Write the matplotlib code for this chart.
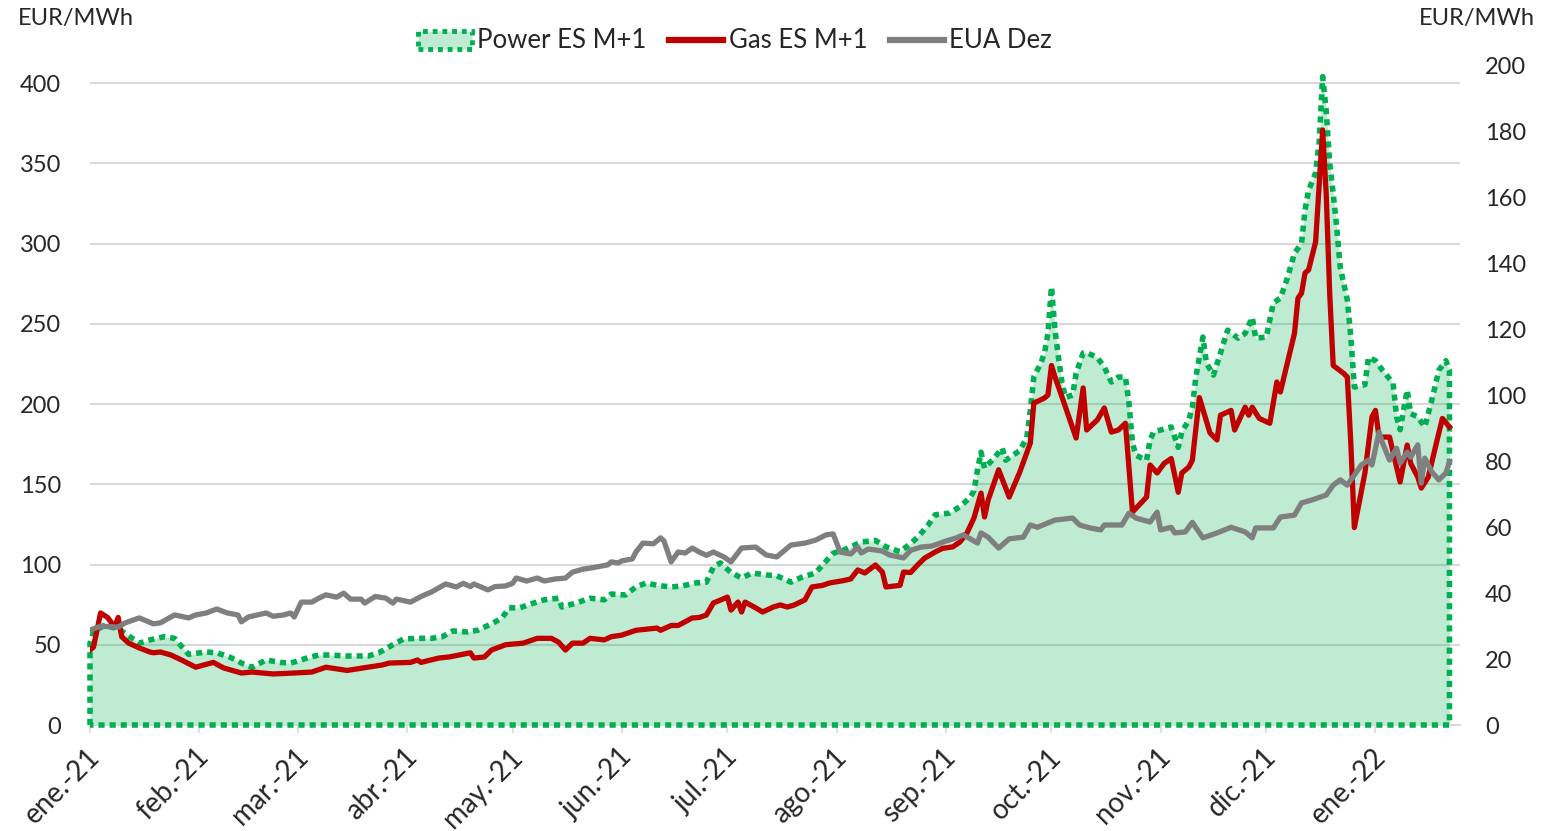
import numpy as np
import matplotlib
matplotlib.use('Agg')
import matplotlib.pyplot as plt
import matplotlib.transforms as mtransforms
from matplotlib.patches import Patch
from matplotlib.lines import Line2D

plt.rcParams['font.family'] = ['Lato', 'DejaVu Sans']

# ---------------- data (days since 2021-01-01, EUR/MWh) ----------------
START = np.datetime64('2021-01-01')

power_days = [0, 1, 4, 8, 10, 14, 17, 21, 24, 26, 28, 33, 36, 40, 43, 46, 50, 54, 57, 62,
              65, 68, 73, 79, 82, 86, 89, 93, 97, 100, 103, 107, 110, 114, 117, 119, 122, 126,
              129, 133, 134, 138, 142, 146, 148, 152, 155, 158, 161, 165, 168, 172, 175, 177,
              179, 182, 185, 188, 192, 195, 199, 202, 206, 208, 211, 214, 217, 219, 223, 226,
              230, 233, 235, 238, 240, 244, 247, 250, 251, 252, 253, 254, 257, 259, 260, 264,
              266, 267, 268, 270, 271, 272, 273, 274, 275, 276, 277, 279, 280, 282, 283, 286,
              288, 290, 292, 294, 295, 296, 297, 300, 301, 302, 304, 307, 309, 310, 312, 313,
              314, 316, 317, 319, 321, 323, 326, 328, 330, 331, 334, 336, 338, 340, 342, 344,
              345, 346, 348, 349, 350, 351, 352, 353, 354, 355, 357, 358, 359, 362, 363, 365,
              367, 370, 371, 372, 374, 375, 377, 379, 381, 383, 385, 386]
power_vals = [51, 58, 62, 60, 57, 51, 53, 55, 54, 49, 44, 45.5, 45, 42, 38.6, 36, 40.5, 39, 38.6, 42,
              43.6, 43.6, 43, 43, 45, 50, 53.6, 54, 54, 55, 58.6, 58, 59, 63, 66.7, 73, 73, 76,
              78, 79, 73.5, 76, 79, 78, 81.6, 81, 86, 88.5, 87, 86, 86.6, 88.5, 89, 98.4,
              101, 95, 91.6, 94.7, 93.5, 93, 89, 92, 94.7, 99.7, 107, 109, 112, 114, 115, 111,
              108, 113, 117, 124.6, 131, 132, 136, 142, 146, 159, 170, 160, 167, 172.6, 165, 171,
              179, 196, 217, 225.5, 231.8, 244, 273, 246, 229, 213, 204, 205.6, 219, 231.8, 232, 229,
              223, 213.7, 216.8, 216.8, 200.6, 175.7, 168, 165, 177.6, 182.5, 183.8, 185.7, 173, 182.5, 190, 198,
              216.8, 241.7, 225.5, 218, 231.8, 246, 241, 244, 254, 241, 241.7, 263, 266, 278.5, 294, 300,
              321, 333, 344, 362.6, 404, 383, 350, 331, 310, 285, 265, 241.7, 210.6, 212, 229, 227,
              221, 213, 192, 184, 208.7, 194, 192, 185.7, 202.5, 221, 227, 221]

gas_days = [0, 1, 3, 5, 7, 8, 9, 11, 14, 17, 18, 20, 23, 26, 30, 35, 38, 43, 46, 52,
            58, 63, 67, 73, 79, 83, 85, 91, 93, 94, 99, 102, 108, 109, 112, 114, 118, 123,
            127, 131, 133, 135, 137, 140, 142, 146, 148, 151, 155, 161, 162, 165, 167, 171,
            173, 175, 177, 181, 182, 184, 185, 186, 189, 191, 194, 196, 198, 200, 203, 205,
            208, 210, 214, 216, 218, 220, 223, 225, 226, 230, 231, 233, 235, 237, 240, 242,
            245, 247, 249, 251, 253, 254, 255, 256, 258, 261, 264, 267, 268, 271, 272, 273,
            274, 276, 280, 282, 283, 285, 286, 288, 290, 292, 294, 296, 300, 301, 303, 305,
            307, 309, 310, 312, 313, 315, 318, 320, 321, 324, 325, 328, 329, 330, 332, 335,
            337, 338, 342, 343, 344, 345, 346, 348, 350, 351, 352, 353, 356, 357, 358, 359,
            362, 364, 365, 366, 369, 372, 374, 375, 377, 378, 380, 382, 384, 386]
gas_vals = [46.7, 48.6, 69.8, 67, 61, 67, 55, 51, 48, 45.5, 45, 45.5, 43.6, 40.5, 36, 39, 35.5, 32.4, 33, 31.8,
            32.4, 33, 36, 34, 36, 37.4, 38.6, 39, 40.5, 39, 41.7, 42.4, 45, 41.7, 42.4, 46.7, 50, 51,
            54, 54, 51.7, 46.7, 51, 51, 54, 53, 55, 56, 59, 60.4, 59, 62, 62, 66.7,
            67, 68.5, 76, 79.7, 71.6, 76.6, 70.4, 76.6, 73, 70.4, 73.5, 74.8, 73.5, 74.8, 78, 86,
            87, 88.5, 90, 91, 96.6, 94.7, 99.7, 95.3, 86, 87, 95.3, 95, 99.7, 104, 107.8, 110,
            111, 114, 119.6, 129, 144.5, 129.6, 140, 146.4, 159, 142, 157.6, 175.7, 200.6, 203.7, 205.6, 224,
            216.8, 204.3, 178.8, 210, 183.8, 188, 190, 197.5, 182.5, 183.8, 188, 132.7, 142, 162, 157, 163,
            166, 145, 157, 160.7, 165, 204, 182, 177.6, 193, 196, 183.8, 198, 193, 198, 191, 188,
            213.7, 207.5, 244, 266, 269, 281.6, 283.5, 301, 370.7, 331.4, 269, 224, 219, 216.8, 175.7, 123,
            157, 192, 196, 179.4, 179.4, 151.4, 174.4, 163, 154.5, 147.6, 154.5, 173, 191, 185.7]

eua_days = [0, 3, 8, 10, 14, 18, 20, 24, 28, 30, 33, 36, 39, 42, 43, 45, 50, 52, 55, 57,
            58, 60, 63, 65, 67, 70, 72, 74, 77, 78, 81, 84, 86, 87, 91, 94, 97, 101, 104, 106,
            108, 109, 113, 115, 118, 120, 121, 124, 127, 129, 132, 135, 137, 140, 142, 144, 147,
            148, 150, 151, 154, 155, 157, 160, 162, 163, 165, 167, 169, 171, 173, 175, 177, 180,
            182, 185, 189, 192, 195, 199, 203, 206, 209, 211, 213, 216, 218, 219, 221, 225, 227,
            231, 233, 236, 239, 243, 246, 248, 252, 253, 255, 258, 261, 265, 267, 269, 272, 274,
            279, 281, 284, 287, 288, 293, 295, 297, 301, 303, 304, 307, 308, 311, 313, 316, 320,
            324, 328, 330, 331, 336, 338, 342, 344, 347, 351, 353, 355, 357, 361, 363, 364, 366,
            367, 369, 371, 372, 374, 375, 377, 378, 379, 381, 383, 385, 386]
eua_vals = [28.8, 30, 29.7, 31, 32.5, 30.7, 31, 33.4, 32.5, 33.4, 34, 35.2, 34, 33.4, 31.3, 32.8, 34, 33, 33.4, 34,
            32.8, 37.3, 37.3, 38.5, 39.5, 38.8, 40, 38.2, 38.2, 37, 39, 38.5, 37, 38.2, 37.3, 39, 40.4, 42.8, 41.9, 43,
            42, 42.8, 41, 42, 42.2, 43, 44.6, 43.7, 44.6, 43.7, 44.3, 44.6, 46.4, 47.3, 47.6, 48, 48.6,
            49.5, 49.2, 49.8, 50.4, 52.5, 55.2, 55, 56.8, 55.8, 49.5, 52.5, 52.2, 53.7, 52.5, 51.5, 52.5, 51,
            49.5, 53.7, 54, 51.6, 51, 54.6, 55.2, 56.1, 57.7, 58, 52.5, 51.9, 54, 52.2, 53.4, 52.8, 51.6,
            50.7, 53, 54, 54.3, 55.8, 56.8, 57.7, 55.2, 58.3, 57, 53.7, 56.5, 57, 60.7, 60, 61.3, 62.2,
            62.8, 60.7, 59.8, 59.2, 60.7, 60.7, 64.3, 62.8, 61.6, 64.6, 59.2, 60, 58.3, 58.6, 61.5, 56.8, 58.3,
            60, 58.6, 56.8, 59.8, 59.8, 63.1, 63.7, 67.4, 68.3, 69.8, 72.8, 74.4, 72.8, 78.9, 80.4, 78.9, 88.9,
            85.6, 80.4, 84, 79.5, 82.8, 81.3, 85, 73.4, 81, 76.8, 74.4, 76.5, 79.8]

month_labels = ['ene.-21', 'feb.-21', 'mar.-21', 'abr.-21', 'may.-21', 'jun.-21', 'jul.-21',
                'ago.-21', 'sep.-21', 'oct.-21', 'nov.-21', 'dic.-21', 'ene.-22']

series_names = ['Power ES M+1', 'Gas ES M+1', 'EUA Dez']

# ---------------- styling ----------------
C_POWER = '#00b050'
C_GAS = '#c00000'
C_EUA = '#7f7f7f'
C_GRID = '#d9d9d9'
TXT = '#262626'
FS = 17


def to_dates(days):
    return START + np.array(days).astype('timedelta64[D]')


pd_ = to_dates(power_days)
gd_ = to_dates(gas_days)
ed_ = to_dates(eua_days)
pv = np.array(power_vals, dtype=float)

fig = plt.figure(figsize=(15.6, 8.31), dpi=100)
ax = fig.add_axes([90 / 1560, 1 - 725 / 831, 1370 / 1560, 659 / 831])
ax2 = ax.twinx()

# power area
ax.fill_between(pd_, pv, 0, color=C_POWER, alpha=0.25, lw=0, zorder=2)
ox = np.concatenate([[pd_[0]], pd_, [pd_[-1], pd_[0]]])
oy = np.concatenate([[0], pv, [0, 0]])
ax.plot(ox, oy, color=C_POWER, lw=4, linestyle=(0, (1.1, 0.9)), solid_capstyle='butt',
        dash_capstyle='butt', zorder=3, clip_on=False)

# gas
ax.plot(gd_, gas_vals, color=C_GAS, lw=3.8, zorder=4, solid_joinstyle='round')
# EUA (right axis)
ax2.plot(ed_, eua_vals, color=C_EUA, lw=3.8, zorder=4, solid_joinstyle='round')

# axes limits
x0 = START
x1 = START + np.timedelta64(389, 'D')
ax.set_xlim(x0, x1)
ax.set_ylim(0, 400 * 659 / 642)
ax2.set_ylim(0, 200)

ax.set_yticks(np.arange(0, 401, 50))
ax2.set_yticks(np.arange(0, 201, 20))
ax.yaxis.grid(True, color=C_GRID, lw=1.5, zorder=0)
ax.set_axisbelow(True)

month_ticks = np.arange('2021-01', '2022-02', dtype='datetime64[M]').astype('datetime64[D]')
ax.set_xticks(month_ticks)
ax.set_xticklabels(month_labels, rotation=45, ha='right', va='center', rotation_mode='anchor',
                   fontsize=20, color=TXT)
ax.tick_params(axis='x', length=6, width=1.2, color=C_GRID, pad=14)
shift = mtransforms.ScaledTranslation(6 / 100, 0, fig.dpi_scale_trans)
for lbl in ax.get_xticklabels():
    lbl.set_transform(lbl.get_transform() + shift)
ax.tick_params(axis='y', length=0, labelsize=FS, labelcolor=TXT, pad=21)
ax2.tick_params(axis='y', length=0, labelsize=FS, labelcolor=TXT, pad=18)

for a in (ax, ax2):
    for s in ('top', 'left', 'right'):
        a.spines[s].set_visible(False)
    a.spines['bottom'].set_color(C_GRID)
    a.spines['bottom'].set_linewidth(1.5)
ax2.spines['bottom'].set_visible(False)

fig.text(18 / 1560, 1 - 18 / 831, 'EUR/MWh', fontsize=17, color=TXT, ha='left', va='center')
fig.text(1535 / 1560, 1 - 18 / 831, 'EUR/MWh', fontsize=17, color=TXT, ha='right', va='center')

handles = [
    Patch(facecolor='#bfebd3', edgecolor=C_POWER, lw=3.5, linestyle=(0, (1, 1))),
    Line2D([], [], color=C_GAS, lw=4.5),
    Line2D([], [], color=C_EUA, lw=4.5),
]
fig.legend(handles, series_names, loc='center', bbox_to_anchor=(735 / 1560, 1 - 41 / 831),
           ncol=3, frameon=False, fontsize=18.5, handlelength=2.1, handletextpad=0.2,
           columnspacing=0.9, labelcolor=TXT)

fig.savefig('out.png', dpi=100)
